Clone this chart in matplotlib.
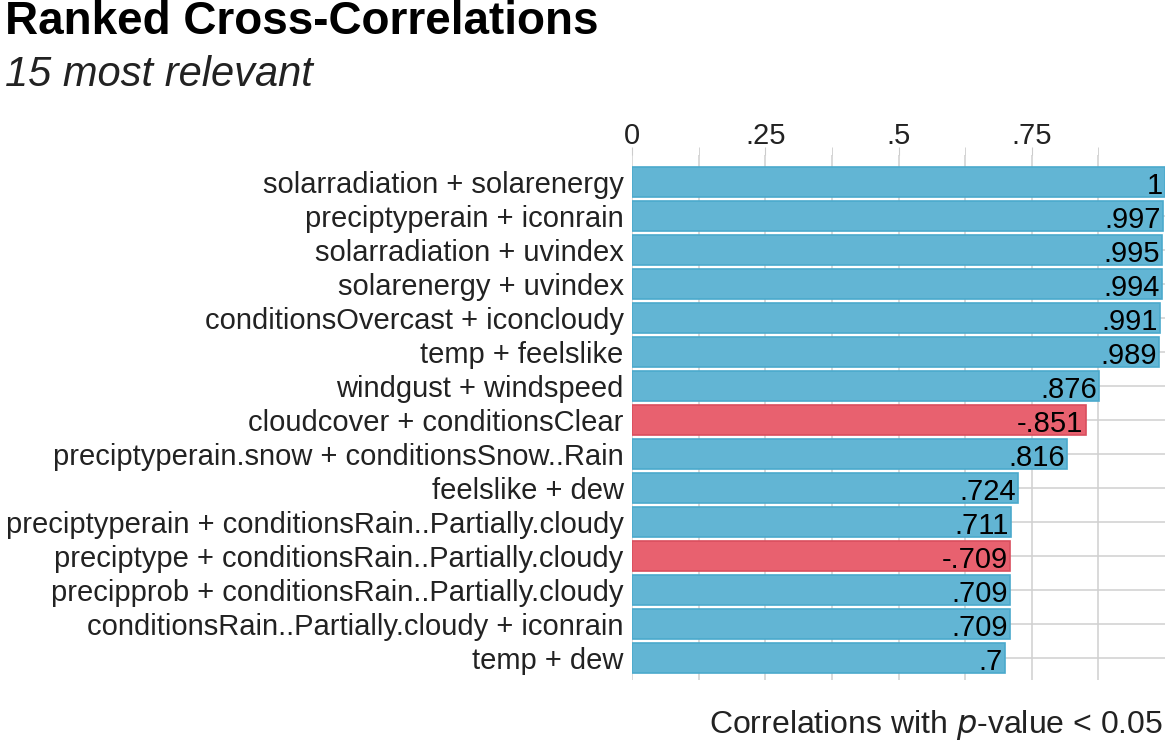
import matplotlib.pyplot as plt
import numpy as np

plt.rcParams['font.family'] = ['Liberation Sans', 'DejaVu Sans']

# Variable pairs, ranked by absolute correlation
pairs = [
    "solarradiation + solarenergy",
    "preciptyperain + iconrain",
    "solarradiation + uvindex",
    "solarenergy + uvindex",
    "conditionsOvercast + iconcloudy",
    "temp + feelslike",
    "windgust + windspeed",
    "cloudcover + conditionsClear",
    "preciptyperain.snow + conditionsSnow..Rain",
    "feelslike + dew",
    "preciptyperain + conditionsRain..Partially.cloudy",
    "preciptype + conditionsRain..Partially.cloudy",
    "precipprob + conditionsRain..Partially.cloudy",
    "conditionsRain..Partially.cloudy + iconrain",
    "temp + dew",
]
corr = [1.0, 0.997, 0.995, 0.994, 0.991, 0.989, 0.876, -0.851,
        0.816, 0.724, 0.711, -0.709, 0.709, 0.709, 0.7]

x_ticks = [0, 0.25, 0.5, 0.75]
x_tick_labels = ["0", ".25", ".5", ".75"]


def fmt(v):
    # R-style label with no leading zero
    s = f"{abs(v):.3f}".rstrip('0').rstrip('.')
    if s.startswith('0'):
        s = s[1:]
    return ('-' if v < 0 else '') + s


fig = plt.figure(figsize=(11.67, 7.46), dpi=100)
ax = fig.add_axes([0.5416, 0.088, 0.4567, 0.704])

y = np.arange(len(pairs))
colors = ['#E8616F' if v < 0 else '#62B5D4' for v in corr]
edges = ['#D94E5E' if v < 0 else '#4AA9CC' for v in corr]
ax.barh(y, np.abs(corr), height=0.88, color=colors, edgecolor=edges,
        linewidth=1.2, zorder=3)

for yi, v in zip(y, corr):
    ax.text(abs(v) - 0.004, yi + 0.1, fmt(v), ha='right', va='center',
            fontsize=21, color='black', zorder=4)

ax.set_xlim(0, 1.0)
ax.set_ylim(len(pairs) - 0.35, -0.8)
ax.set_yticks(y)
ax.set_yticklabels(pairs, fontsize=21, color='#222222')

ax.xaxis.tick_top()
ax.set_xticks(x_ticks)
ax.set_xticklabels(x_tick_labels, fontsize=21, color='#222222')
ax.set_xticks(np.arange(0.125, 1.0, 0.25), minor=True)
ax.tick_params(axis='x', which='both', length=6, color='#cccccc', pad=-2)
ax.tick_params(axis='y', length=0, pad=6)

ax.grid(True, which='both', axis='x', color='#d0d0d0', linewidth=1.1, zorder=0)
ax.grid(True, which='major', axis='y', color='#d0d0d0', linewidth=1.1, zorder=0)
for s in ax.spines.values():
    s.set_visible(False)

fig.text(0.004, 0.97, "Ranked Cross-Correlations", fontsize=33,
         fontweight='bold', ha='left', va='center')
fig.text(0.004, 0.899, "15 most relevant", fontsize=30, style='italic',
         ha='left', va='center', color='#222222')
fig.text(0.997, 0.028, r"Correlations with $\it{p}$-value < 0.05", fontsize=23,
         ha='right', va='center', color='#222222')

fig.savefig('out.png', dpi=100)
